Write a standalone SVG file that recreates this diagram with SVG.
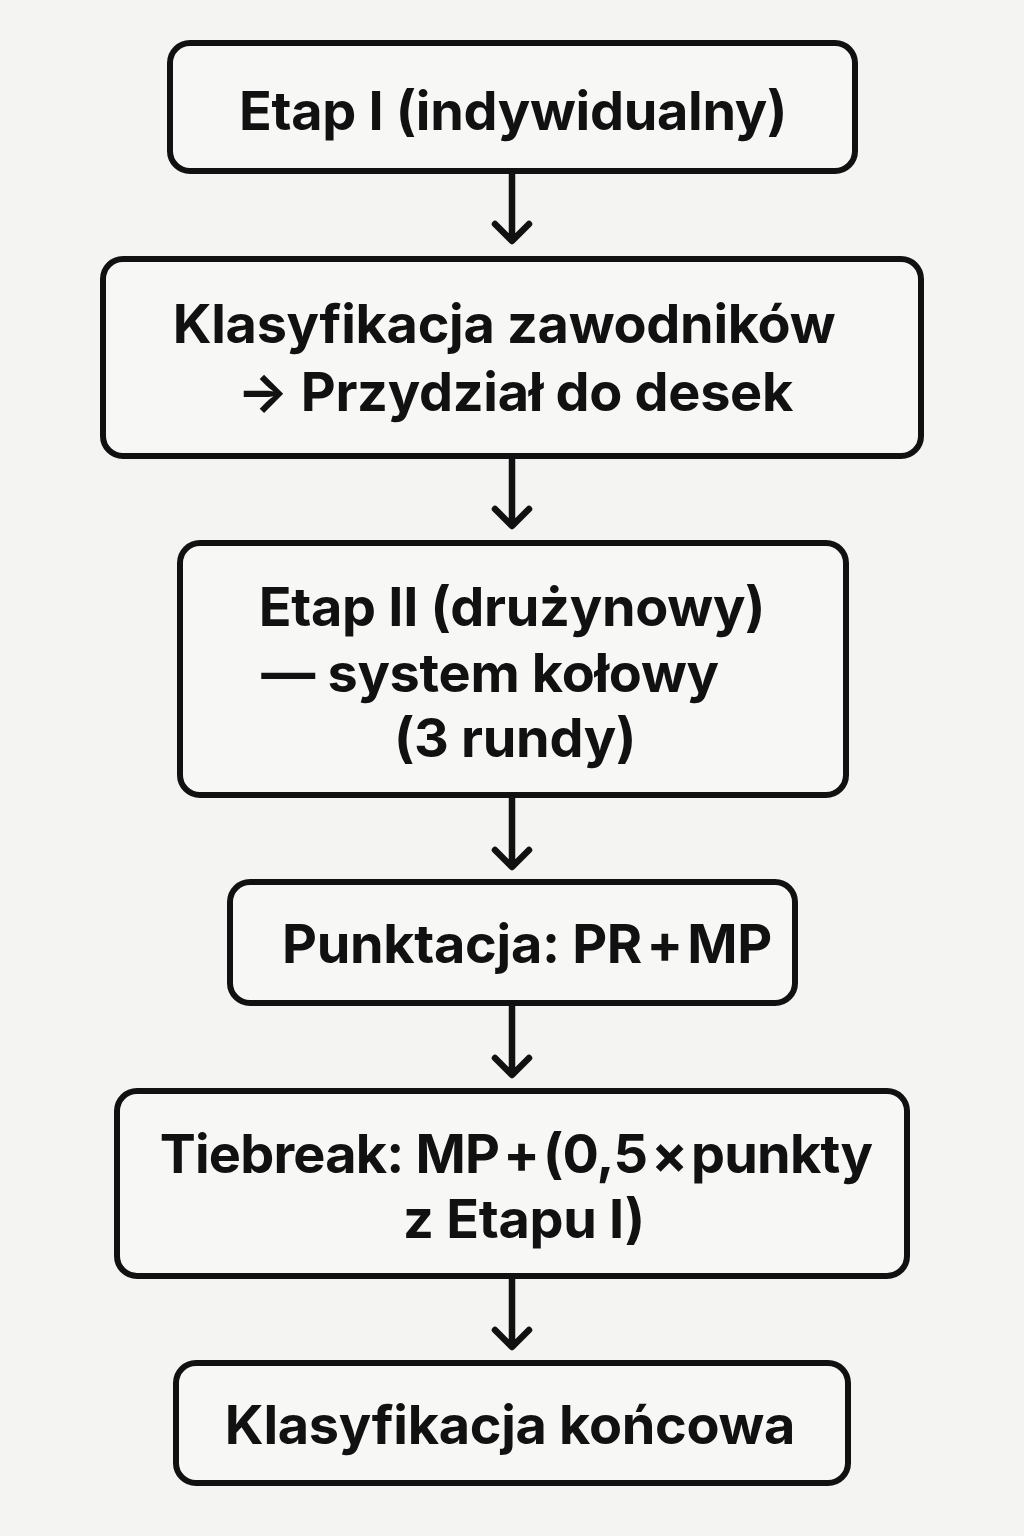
<svg xmlns="http://www.w3.org/2000/svg" width="1024" height="1536" viewBox="0 0 1024 1536">
<style>
.box{fill:#f7f7f5;stroke:#111;stroke-width:6}
.t{font-family:Inter,"Liberation Sans",sans-serif;font-weight:700;font-size:54px;letter-spacing:-0.3px;fill:#111;text-anchor:middle}
.tight{word-spacing:-8px}
.c{fill:none;stroke:#111;stroke-width:6.5;stroke-linecap:round;stroke-linejoin:round}
</style>
<rect width="1024" height="1536" fill="#f4f4f2"/>
<g id="connectors">
<path class="c" d="M512 172V240M495 224L512 241L529 224"/>
<path class="c" d="M512 457V525M495 509L512 526L529 509"/>
<path class="c" d="M512 796V866M495 850L512 867L529 850"/>
<path class="c" d="M512 1004V1074M495 1058L512 1075L529 1058"/>
<path class="c" d="M512 1277V1346M495 1330L512 1347L529 1330"/>
</g>
<g id="n1"><rect class="box" x="170" y="43" width="685" height="128" rx="20"/><text class="t" x="513" y="130">Etap I (indywidualny)</text></g>
<g id="n2"><rect class="box" x="103" y="259" width="818" height="197" rx="20"/><text class="t" x="504" y="343">Klasyfikacja zawodników</text><text class="t" x="515" y="411">→ Przydział do desek</text></g>
<g id="n3"><rect class="box" x="180" y="543" width="666" height="252" rx="20"/><text class="t" x="512" y="626">Etap II (drużynowy)</text><text class="t" x="490" y="692">— system kołowy</text><text class="t" x="515" y="757">(3 rundy)</text></g>
<g id="n4"><rect class="box" x="230" y="882" width="565" height="121" rx="20"/><text class="t" x="527" y="963">Punktacja: <tspan class="tight">PR + MP</tspan></text></g>
<g id="n5"><rect class="box" x="117" y="1091" width="790" height="185" rx="20"/><text class="t" x="516" y="1173" style="letter-spacing:-0.8px">Tiebreak: <tspan class="tight">MP + (0,5 × </tspan>punkty</text><text class="t" x="524" y="1238">z Etapu I)</text></g>
<g id="n6"><rect class="box" x="176" y="1363" width="672" height="120" rx="20"/><text class="t" x="510" y="1444">Klasyfikacja końcowa</text></g>
</svg>
